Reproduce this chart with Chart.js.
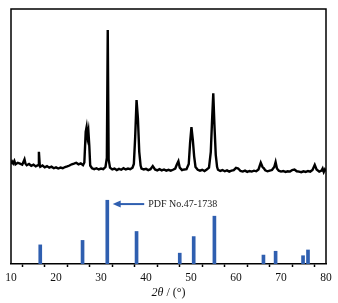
<!DOCTYPE html>
<html>
<head>
<meta charset="utf-8">
<script src="https://cdn.jsdelivr.net/npm/chart.js@4/dist/chart.umd.min.js"></script>
<style>
  html, body { margin: 0; padding: 0; background: #fff; }
  #wrap { width: 338px; height: 303px; }
</style>
</head>
<body>
<div id="wrap"><canvas id="xrd" width="338" height="303"></canvas></div>
<script>
/* measured pattern (counts, arbitrary) */
const xrdAngle = [10,10.25,10.5,10.75,11,11.5,12,12.5,13,13.2,13.5,14,14.5,15,15.5,16,16.2,16.4,16.5,17,17.5,18,18.5,19,19.5,20,20.5,21,21.5,22,22.5,23,23.5,24,24.5,25,25.5,26,26.3,26.6,26.8,27,27.2,27.4,27.6,28,28.5,29,29.5,30,30.5,31,31.3,31.5,31.7,32,32.5,33,33.5,34,34.5,35,35.5,36,36.5,37,37.3,37.6,37.9,38.2,38.5,38.8,39,39.5,40,40.5,41,41.5,42,42.5,43,43.5,44,44.5,45,45.5,46,46.5,46.9,47.2,47.5,48,48.5,49,49.5,49.8,50.1,50.4,50.7,51,51.5,52,52.5,53,53.5,54,54.4,54.7,54.95,55.2,55.5,55.8,56,56.5,57,57.5,58,58.5,59,59.5,60,60.5,61,61.5,62,62.5,63,63.5,64,64.5,65,65.5,65.9,66.2,66.5,67,67.5,68,68.5,68.8,69.1,69.5,70,70.5,71,71.5,72,72.5,73,73.5,74,74.5,75,75.5,76,76.5,77,77.5,77.9,78.5,79,79.25,79.5,79.75,80];
const xrdCounts = [120,136,124,140,118,128,122,115,150,124,112,120,108,116,104,112,200,110,102,110,98,106,96,102,92,98,90,96,92,100,104,110,118,122,128,118,124,112,130,330,362,300,335,240,110,92,86,92,84,90,86,100,160,1000,150,96,84,90,80,88,82,92,84,90,86,96,120,300,540,420,200,110,90,84,88,80,86,106,84,78,86,78,84,76,82,76,82,90,120,138,96,80,84,86,120,260,362,280,170,100,82,76,82,74,84,96,200,420,585,380,180,100,82,74,80,72,78,70,76,80,94,90,74,70,76,68,74,70,76,72,84,128,100,92,78,72,76,80,100,132,90,76,70,74,68,72,70,80,84,72,70,66,72,68,74,70,80,114,84,70,76,90,68,84,72];

/* reference card PDF No.47-1738 (relative intensity) */
const refAngle = [16.5, 25.9, 31.4, 37.9, 47.5, 50.6, 55.2, 66.1, 68.8, 74.9, 76.0];
const refIntensity = [30, 37, 100, 51, 17, 43, 75, 14, 20, 13, 22];
const refLabel = 'PDF No.47-1738';

const xTicks = [10, 20, 30, 40, 50, 60, 70, 80];

const serif = '"Liberation Serif", "Times New Roman", serif';
const blue = '#2f5fb0';

/* frame, arrow note and axis title */
const decor = {
  id: 'decor',
  afterDraw(chart) {
    const ctx = chart.ctx;
    const a = chart.chartArea;
    const xs = chart.scales.x, yr = chart.scales.yRef;
    ctx.save();
    ctx.strokeStyle = '#000';
    ctx.lineWidth = 1.5;
    ctx.beginPath();
    ctx.moveTo(a.left, a.bottom);
    ctx.lineTo(a.left, a.top);
    ctx.lineTo(a.right, a.top);
    ctx.lineTo(a.right, a.bottom);
    ctx.stroke();

    // arrow pointing at the strongest reference line
    const y = yr.getPixelForValue(94);
    const tip = xs.getPixelForValue(32.6);
    const tail = xs.getPixelForValue(39.6);
    ctx.strokeStyle = blue;
    ctx.fillStyle = blue;
    ctx.lineWidth = 2;
    ctx.beginPath();
    ctx.moveTo(tail, y);
    ctx.lineTo(tip + 6, y);
    ctx.stroke();
    ctx.beginPath();
    ctx.moveTo(tip, y);
    ctx.lineTo(tip + 8, y - 3.5);
    ctx.lineTo(tip + 8, y + 3.5);
    ctx.closePath();
    ctx.fill();
    ctx.fillStyle = '#222';
    ctx.font = '10px ' + serif;
    ctx.textBaseline = 'middle';
    ctx.textAlign = 'left';
    ctx.fillText(refLabel, xs.getPixelForValue(40.5), y + 0.5);

    // x title: 2θ / (°)
    const t1 = '2\u03B8', t2 = ' / (\u00B0)';
    ctx.font = 'italic 12px ' + serif;
    const w1 = ctx.measureText(t1).width;
    ctx.font = '12px ' + serif;
    const w2 = ctx.measureText(t2).width;
    const cx = (a.left + a.right) / 2;
    const ty = 293;
    let x0 = cx - (w1 + w2) / 2;
    ctx.fillStyle = '#111';
    ctx.font = 'italic 12px ' + serif;
    ctx.fillText(t1, x0, ty);
    ctx.font = '12px ' + serif;
    ctx.fillText(t2, x0 + w1, ty);
    ctx.restore();
  }
};

new Chart(document.getElementById('xrd').getContext('2d'), {
  type: 'bar',
  data: {
    datasets: [
      {
        type: 'line',
        label: 'sample',
        data: xrdAngle.map((a, i) => ({ x: a, y: xrdCounts[i] })),
        yAxisID: 'yXrd',
        borderColor: '#000',
        borderWidth: 2.4,
        pointRadius: 0,
        tension: 0,
        fill: false
      },
      {
        type: 'bar',
        label: refLabel,
        data: refAngle.map((a, i) => ({ x: a, y: refIntensity[i] })),
        yAxisID: 'yRef',
        backgroundColor: blue,
        borderWidth: 0,
        barThickness: 3
      }
    ]
  },
  options: {
    responsive: false,
    animation: false,
    events: [],
    layout: { padding: { left: 11, right: 12, top: 9, bottom: 0 } },
    plugins: { legend: { display: false }, tooltip: { enabled: false } },
    scales: {
      x: {
        type: 'linear',
        min: 10,
        max: 80,
        offset: false,
        afterFit(s) { s.height = 39; },
        border: { display: true, color: '#000', width: 1.5 },
        grid: { drawOnChartArea: false, drawTicks: true, tickLength: 3, tickColor: '#000', tickWidth: 1.5 },
        ticks: {
          stepSize: 5,
          padding: 4,
          maxRotation: 0,
          color: '#111',
          font: { family: serif, size: 11.5 },
          callback: v => (xTicks.includes(v) ? String(v) : '')
        }
      },
      yRef: { type: 'linear', display: false, min: 0, max: 400 },
      yXrd: { type: 'linear', display: false, min: -537, max: 1138 }
    }
  },
  plugins: [decor]
});
</script>
</body>
</html>
